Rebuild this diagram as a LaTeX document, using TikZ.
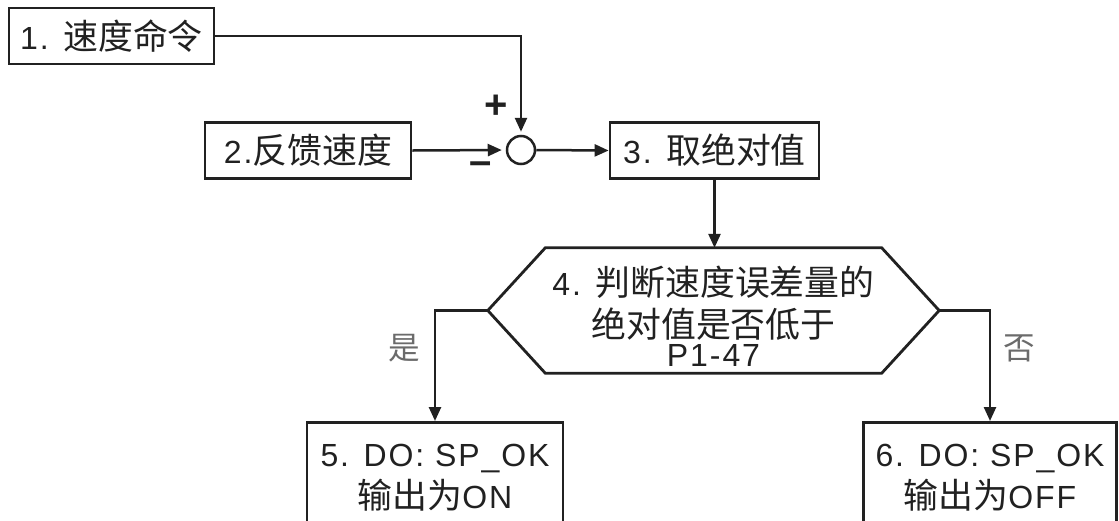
\documentclass[tikz,border=0pt]{standalone}
\usepackage{fontspec}
\setmainfont{Liberation Sans}[LetterSpace=6]
\newfontfamily\cjk{Noto Sans CJK SC}[Scale=1.09]
\usepackage{xcolor}
\usetikzlibrary{arrows.meta,calc}
\definecolor{ink}{gray}{0.13}
\definecolor{lbl}{gray}{0.42}

\begin{document}
\begin{tikzpicture}[x=1pt,y=-1pt,
    font=\fontsize{32}{42}\selectfont,text=ink,
    blk/.style={draw=ink,line width=2.8pt,minimum height=56pt,inner sep=0pt},
    outblk/.style={draw=ink,line width=2.8pt,anchor=north,align=center,inner xsep=0pt,inner ysep=22pt},
    sign/.style={font=\fontsize{40}{40}\selectfont\bfseries,inner sep=0pt},
    arr/.style={draw=ink,line width=2.5pt,-{Triangle[length=14pt,width=12pt]}}]
    \useasboundingbox (0,0) rectangle (1119,520);
    \fill[white] (0,0) rectangle (1119,520);
    % input blocks and summing point
    \node[blk,minimum width=205pt] (cmd) at (111.5,36) {1. {\cjk 速度命令}};
    \node[blk,minimum width=206pt] (fbk) at (308,150.5) {2.{\cjk 反馈速度}};
    \node[circle,draw=ink,line width=2.5pt,minimum size=28pt,inner sep=0pt] (sum) at (521,150) {};
    \node[sign] (plus) at (496,107) {+};
    \node[sign] (minus) at (481,168) {–};
    \node[blk,minimum width=209pt] (absval) at (714.5,150.5) {3. {\cjk 取绝对值}};
    % decision
    \node[align=center,minimum width=336pt,minimum height=125pt,inner sep=0pt] (judge) at (713.5,310.5)
        {\rule{0pt}{40pt}4. {\cjk 判断速度误差量的}\\{\cjk 绝对值是否低于}\\[-13pt]P1-47};
    \coordinate (judgeL) at ($(judge.west)+(-57.5,0)$);
    \coordinate (judgeR) at ($(judge.east)+(57.5,0)$);
    \draw[ink,line width=2.8pt] (judge.north west) -- (judge.north east) -- (judgeR)
        -- (judge.south east) -- (judge.south west) -- (judgeL) -- cycle;
    % outputs
    \node[outblk,minimum width=256pt] (spon) at (435,421) {5. DO: SP\_OK\\{\cjk 输出为}ON};
    \node[outblk,minimum width=253pt] (spoff) at (990,421) {6. DO: SP\_OK\\{\cjk 输出为}OFF};
    \node[text=lbl,font=\cjk\fontsize{29}{29}\selectfont] (yes) at (404,348) {是};
    \node[text=lbl,font=\cjk\fontsize{29}{29}\selectfont] (no) at (1019,348) {否};
    % connectors
    \draw[arr,shorten >=3pt] (cmd.east) -| (sum.north);
    \draw[arr,shorten >=4pt] (fbk.east) -- (sum.west);
    \draw[arr] (sum.east) -- (absval.west);
    \draw[arr] (absval.south) -- (absval.south |- judge.north);
    \draw[arr] (judgeL) -| (spon.north);
    \draw[arr] (judgeR) -| (spoff.north);
\end{tikzpicture}
\end{document}
